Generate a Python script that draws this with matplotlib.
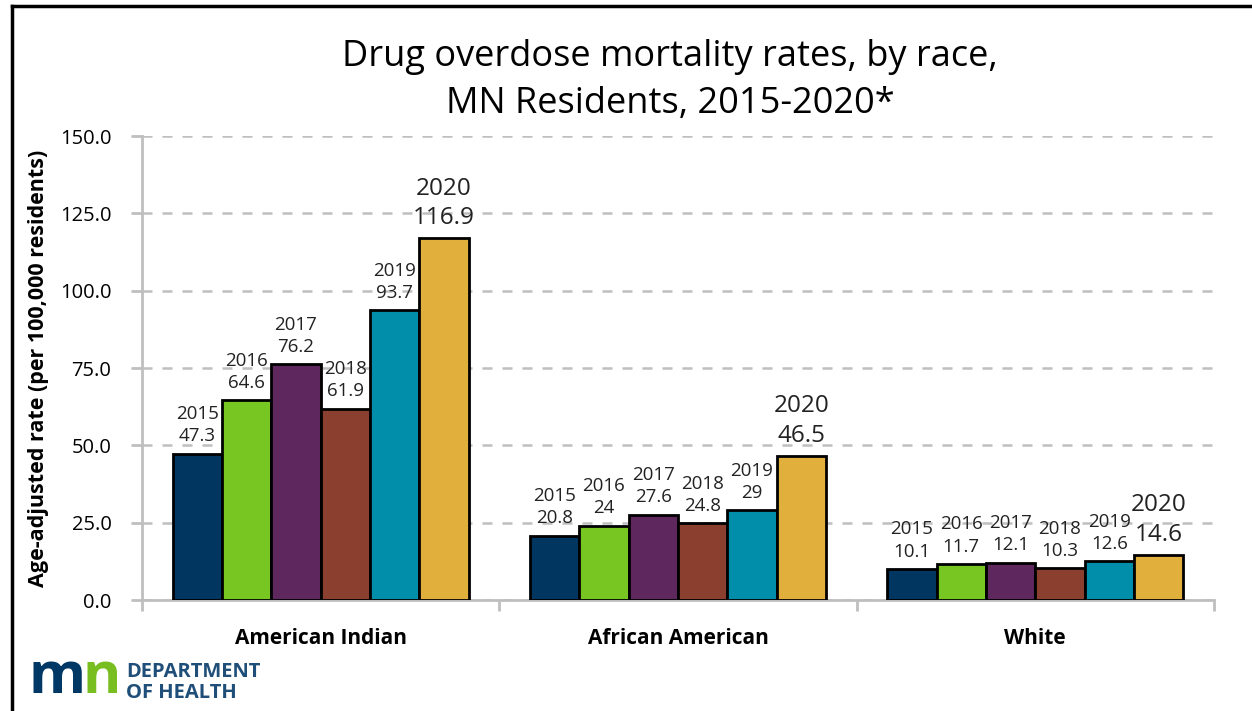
import numpy as np
import matplotlib.pyplot as plt
from matplotlib.lines import Line2D

plt.rcParams['font.family'] = ['Open Sans', 'DejaVu Sans']

groups = ['American Indian', 'African American', 'White']
years = ['2015', '2016', '2017', '2018', '2019', '2020']
rate_2015 = [47.3, 20.8, 10.1]
rate_2016 = [64.6, 24, 11.7]
rate_2017 = [76.2, 27.6, 12.1]
rate_2018 = [61.9, 24.8, 10.3]
rate_2019 = [93.7, 29, 12.6]
rate_2020 = [116.9, 46.5, 14.6]
series = [rate_2015, rate_2016, rate_2017, rate_2018, rate_2019, rate_2020]
colors = ['#003660', '#78C622', '#5E285E', '#8B3F2F', '#008EAA', '#E1B03C']

fig = plt.figure(figsize=(12.52, 7.11), dpi=100)
ax = fig.add_axes([0.1134, 0.156, 0.8562, 0.6527])

x = np.arange(len(groups))
w = 0.138
for i, vals in enumerate(series):
    pos = x + (i - 2.5) * w
    bars = ax.bar(pos, vals, w, color=colors[i], edgecolor='black', linewidth=2, zorder=3)
    big = years[i] == '2020'
    for b, v in zip(bars, vals):
        ax.annotate(f"{years[i]}\n{v:g}", (b.get_x() + b.get_width() / 2, v),
                    xytext=(0, 6), textcoords='offset points', ha='center', va='bottom',
                    fontsize=17.5 if big else 13.5, linespacing=1.3, color='#222222',
                    zorder=4)

ax.set_xlim(-0.5, 2.5)
ax.set_ylim(0, 150)
ax.set_yticks(np.arange(0, 151, 25))
ax.set_yticklabels([f"{t:.1f}" for t in np.arange(0, 151, 25)], fontsize=14.5)
ax.set_xticks(x)
ax.set_xticklabels(groups, fontsize=15, fontweight='bold')
ax.tick_params(axis='x', length=0, pad=20)
ax.set_xticks(np.arange(-0.5, 2.6, 1), minor=True)
ax.tick_params(axis='x', which='minor', length=8, width=2, color='#BFBFBF')
ax.tick_params(axis='y', length=8, width=2, color='#BFBFBF', pad=14)
ax.grid(axis='y', linestyle=(0, (4, 4)), color='#BFBFBF', linewidth=1.8, zorder=0)
for s in ['top', 'right']:
    ax.spines[s].set_visible(False)
for s in ['left', 'bottom']:
    ax.spines[s].set_color('#BFBFBF')
    ax.spines[s].set_linewidth(2)
ax.set_ylabel('Age-adjusted rate (per 100,000 residents)', fontsize=15.5, fontweight='bold', labelpad=8)

fig.text(0.535, 0.887, 'Drug overdose mortality rates, by race,\nMN Residents, 2015-2020*',
         ha='center', va='center', fontsize=26, linespacing=1.4)

# logo
fig.text(0.023, 0.006, 'm', fontsize=42, fontweight='bold', color='#003865', va='bottom')
fig.text(0.066, 0.006, 'n', fontsize=42, fontweight='bold', color='#78BE21', va='bottom')
fig.text(0.101, 0.048, 'DEPARTMENT', fontsize=14.5, fontweight='bold',
         color='#1F4E79', va='baseline')
fig.text(0.101, 0.018, 'OF HEALTH', fontsize=14.5, fontweight='bold',
         color='#1F4E79', va='baseline')

# frame border (left and top)
fig.add_artist(Line2D([0.0096, 0.0096], [0, 0.992], color='black', lw=2.5, transform=fig.transFigure))
fig.add_artist(Line2D([0.0096, 1], [0.992, 0.992], color='black', lw=2.5, transform=fig.transFigure))

fig.savefig('out.png', dpi=100)
